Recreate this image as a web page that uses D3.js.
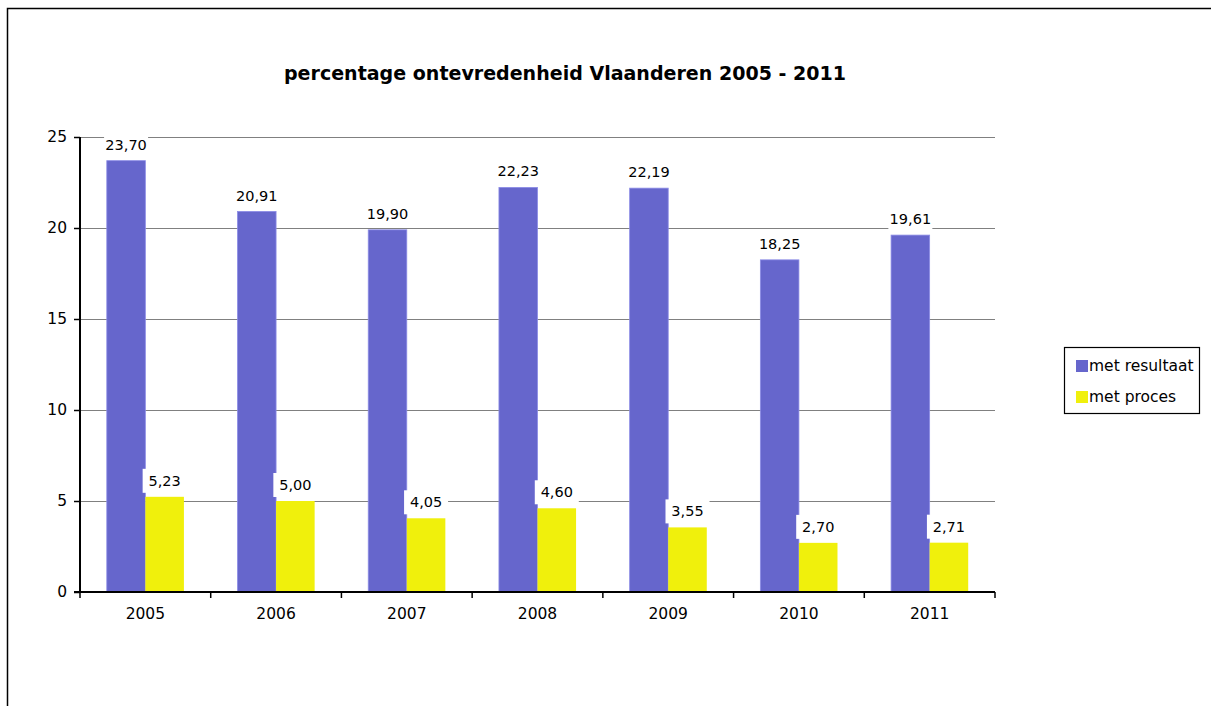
<!DOCTYPE html>
<html>
<head>
<meta charset="utf-8">
<script src="https://cdn.jsdelivr.net/npm/d3@7"></script>
<style>
  html, body { margin: 0; padding: 0; background: #fff; }
  svg text { font-family: "DejaVu Sans", Verdana, sans-serif; fill: #000; }
</style>
</head>
<body>
<div id="chart"></div>
<script>
const years = ["2005", "2006", "2007", "2008", "2009", "2010", "2011"];
const metResultaat = [23.70, 20.91, 19.90, 22.23, 22.19, 18.25, 19.61];
const metProces = [5.23, 5.00, 4.05, 4.60, 3.55, 2.70, 2.71];
const seriesNames = ["met resultaat", "met proces"];
const yTicks = [0, 5, 10, 15, 20, 25];
const titleText = "percentage ontevredenheid Vlaanderen 2005 - 2011";

const width = 1211;
const height = 706;
const colors = ["#6666cc", "#f0f00c"];

const svg = d3.select("#chart")
  .append("svg")
  .attr("width", width)
  .attr("height", height);

// outer chart frame (runs off the right and bottom edge)
svg.append("rect")
  .attr("x", 7.5).attr("y", 8.5)
  .attr("width", 1230).attr("height", 730)
  .attr("fill", "none")
  .attr("stroke", "#000")
  .attr("stroke-width", 1.5);

svg.append("text")
  .attr("x", 565).attr("y", 80)
  .attr("text-anchor", "middle")
  .attr("font-size", 20)
  .attr("font-weight", "bold")
  .attr("textLength", 562)
  .attr("lengthAdjust", "spacingAndGlyphs")
  .text(titleText);

const plot = { left: 80, right: 995, top: 137, bottom: 592 };

const x = d3.scaleBand()
  .domain(years)
  .range([plot.left, plot.right])
  .paddingInner(0.41)
  .paddingOuter(0.205);

const xSub = d3.scaleBand()
  .domain(seriesNames)
  .range([0, x.bandwidth()]);

const y = d3.scaleLinear()
  .domain([0, 25])
  .range([plot.bottom, plot.top]);

const fmt = v => d3.format(".2f")(v).replace(".", ",");

// gridlines
svg.append("g")
  .selectAll("line")
  .data(yTicks.filter(d => d > 0))
  .join("line")
  .attr("x1", plot.left).attr("x2", plot.right)
  .attr("y1", d => Math.round(y(d)) + 0.5)
  .attr("y2", d => Math.round(y(d)) + 0.5)
  .attr("stroke", "#808080")
  .attr("stroke-width", 1.2);

// bars
const data = years.map((yr, i) => ({ year: yr, values: [metResultaat[i], metProces[i]] }));

const groups = svg.append("g")
  .selectAll("g")
  .data(data)
  .join("g")
  .attr("transform", d => `translate(${x(d.year)},0)`);

groups.selectAll("rect")
  .data(d => d.values.map((v, k) => ({ name: seriesNames[k], value: v, k })))
  .join("rect")
  .attr("x", d => xSub(d.name))
  .attr("y", d => y(d.value))
  .attr("width", xSub.bandwidth())
  .attr("height", d => y(0) - y(d.value))
  .attr("fill", d => colors[d.k])
  .attr("stroke", d => d.k === 0 ? "#8c8ce6" : "none")
  .attr("stroke-width", 0.8);

// data labels with white background
const labels = groups.selectAll("g.lbl")
  .data(d => d.values.map((v, k) => ({ name: seriesNames[k], value: v, k })))
  .join("g")
  .attr("class", "lbl")
  .attr("transform", d => `translate(${xSub(d.name) + xSub.bandwidth() / 2},${y(d.value) - 16})`);

labels.append("rect")
  .attr("x", -22).attr("y", -12)
  .attr("width", 44).attr("height", 24)
  .attr("fill", "#fff");

labels.append("text")
  .attr("text-anchor", "middle")
  .attr("dy", "0.35em")
  .attr("font-size", 14.5)
  .text(d => fmt(d.value));

// y axis
const yAxis = svg.append("g");
yAxis.append("line")
  .attr("x1", plot.left).attr("x2", plot.left)
  .attr("y1", plot.top).attr("y2", plot.bottom)
  .attr("stroke", "#000").attr("stroke-width", 2);
yAxis.selectAll("line.tick")
  .data(yTicks)
  .join("line")
  .attr("class", "tick")
  .attr("x1", plot.left - 6).attr("x2", plot.left)
  .attr("y1", d => Math.round(y(d)) + 0.5)
  .attr("y2", d => Math.round(y(d)) + 0.5)
  .attr("stroke", "#000").attr("stroke-width", 1.5);
yAxis.selectAll("text")
  .data(yTicks)
  .join("text")
  .attr("x", plot.left - 13)
  .attr("y", d => y(d))
  .attr("dy", "0.35em")
  .attr("text-anchor", "end")
  .attr("font-size", 15.5)
  .text(d => d);

// x axis
const xAxis = svg.append("g");
xAxis.append("line")
  .attr("x1", plot.left - 6).attr("x2", plot.right)
  .attr("y1", plot.bottom).attr("y2", plot.bottom)
  .attr("stroke", "#000").attr("stroke-width", 2);
xAxis.selectAll("line.tick")
  .data(d3.range(years.length + 1))
  .join("line")
  .attr("class", "tick")
  .attr("x1", i => plot.left + i * x.step())
  .attr("x2", i => plot.left + i * x.step())
  .attr("y1", plot.bottom).attr("y2", plot.bottom + 6)
  .attr("stroke", "#000").attr("stroke-width", 1.5);
xAxis.selectAll("text")
  .data(years)
  .join("text")
  .attr("x", d => x(d) + x.bandwidth() / 2)
  .attr("y", plot.bottom + 22)
  .attr("dy", "0.35em")
  .attr("text-anchor", "middle")
  .attr("font-size", 15.5)
  .text(d => d);

// legend
const legend = svg.append("g").attr("transform", "translate(1064,347)");
legend.append("rect")
  .attr("x", 0.5).attr("y", 0.5)
  .attr("width", 135).attr("height", 66)
  .attr("fill", "#fff")
  .attr("stroke", "#000").attr("stroke-width", 1.2);
const items = legend.selectAll("g.item")
  .data(seriesNames)
  .join("g")
  .attr("class", "item")
  .attr("transform", (d, i) => `translate(12,${19 + i * 31})`);
items.append("rect")
  .attr("x", 0).attr("y", -6)
  .attr("width", 12).attr("height", 12)
  .attr("fill", (d, i) => colors[i]);
items.append("text")
  .attr("x", 13)
  .attr("dy", "0.35em")
  .attr("font-size", 15.5)
  .text(d => d);
</script>
</body>
</html>
